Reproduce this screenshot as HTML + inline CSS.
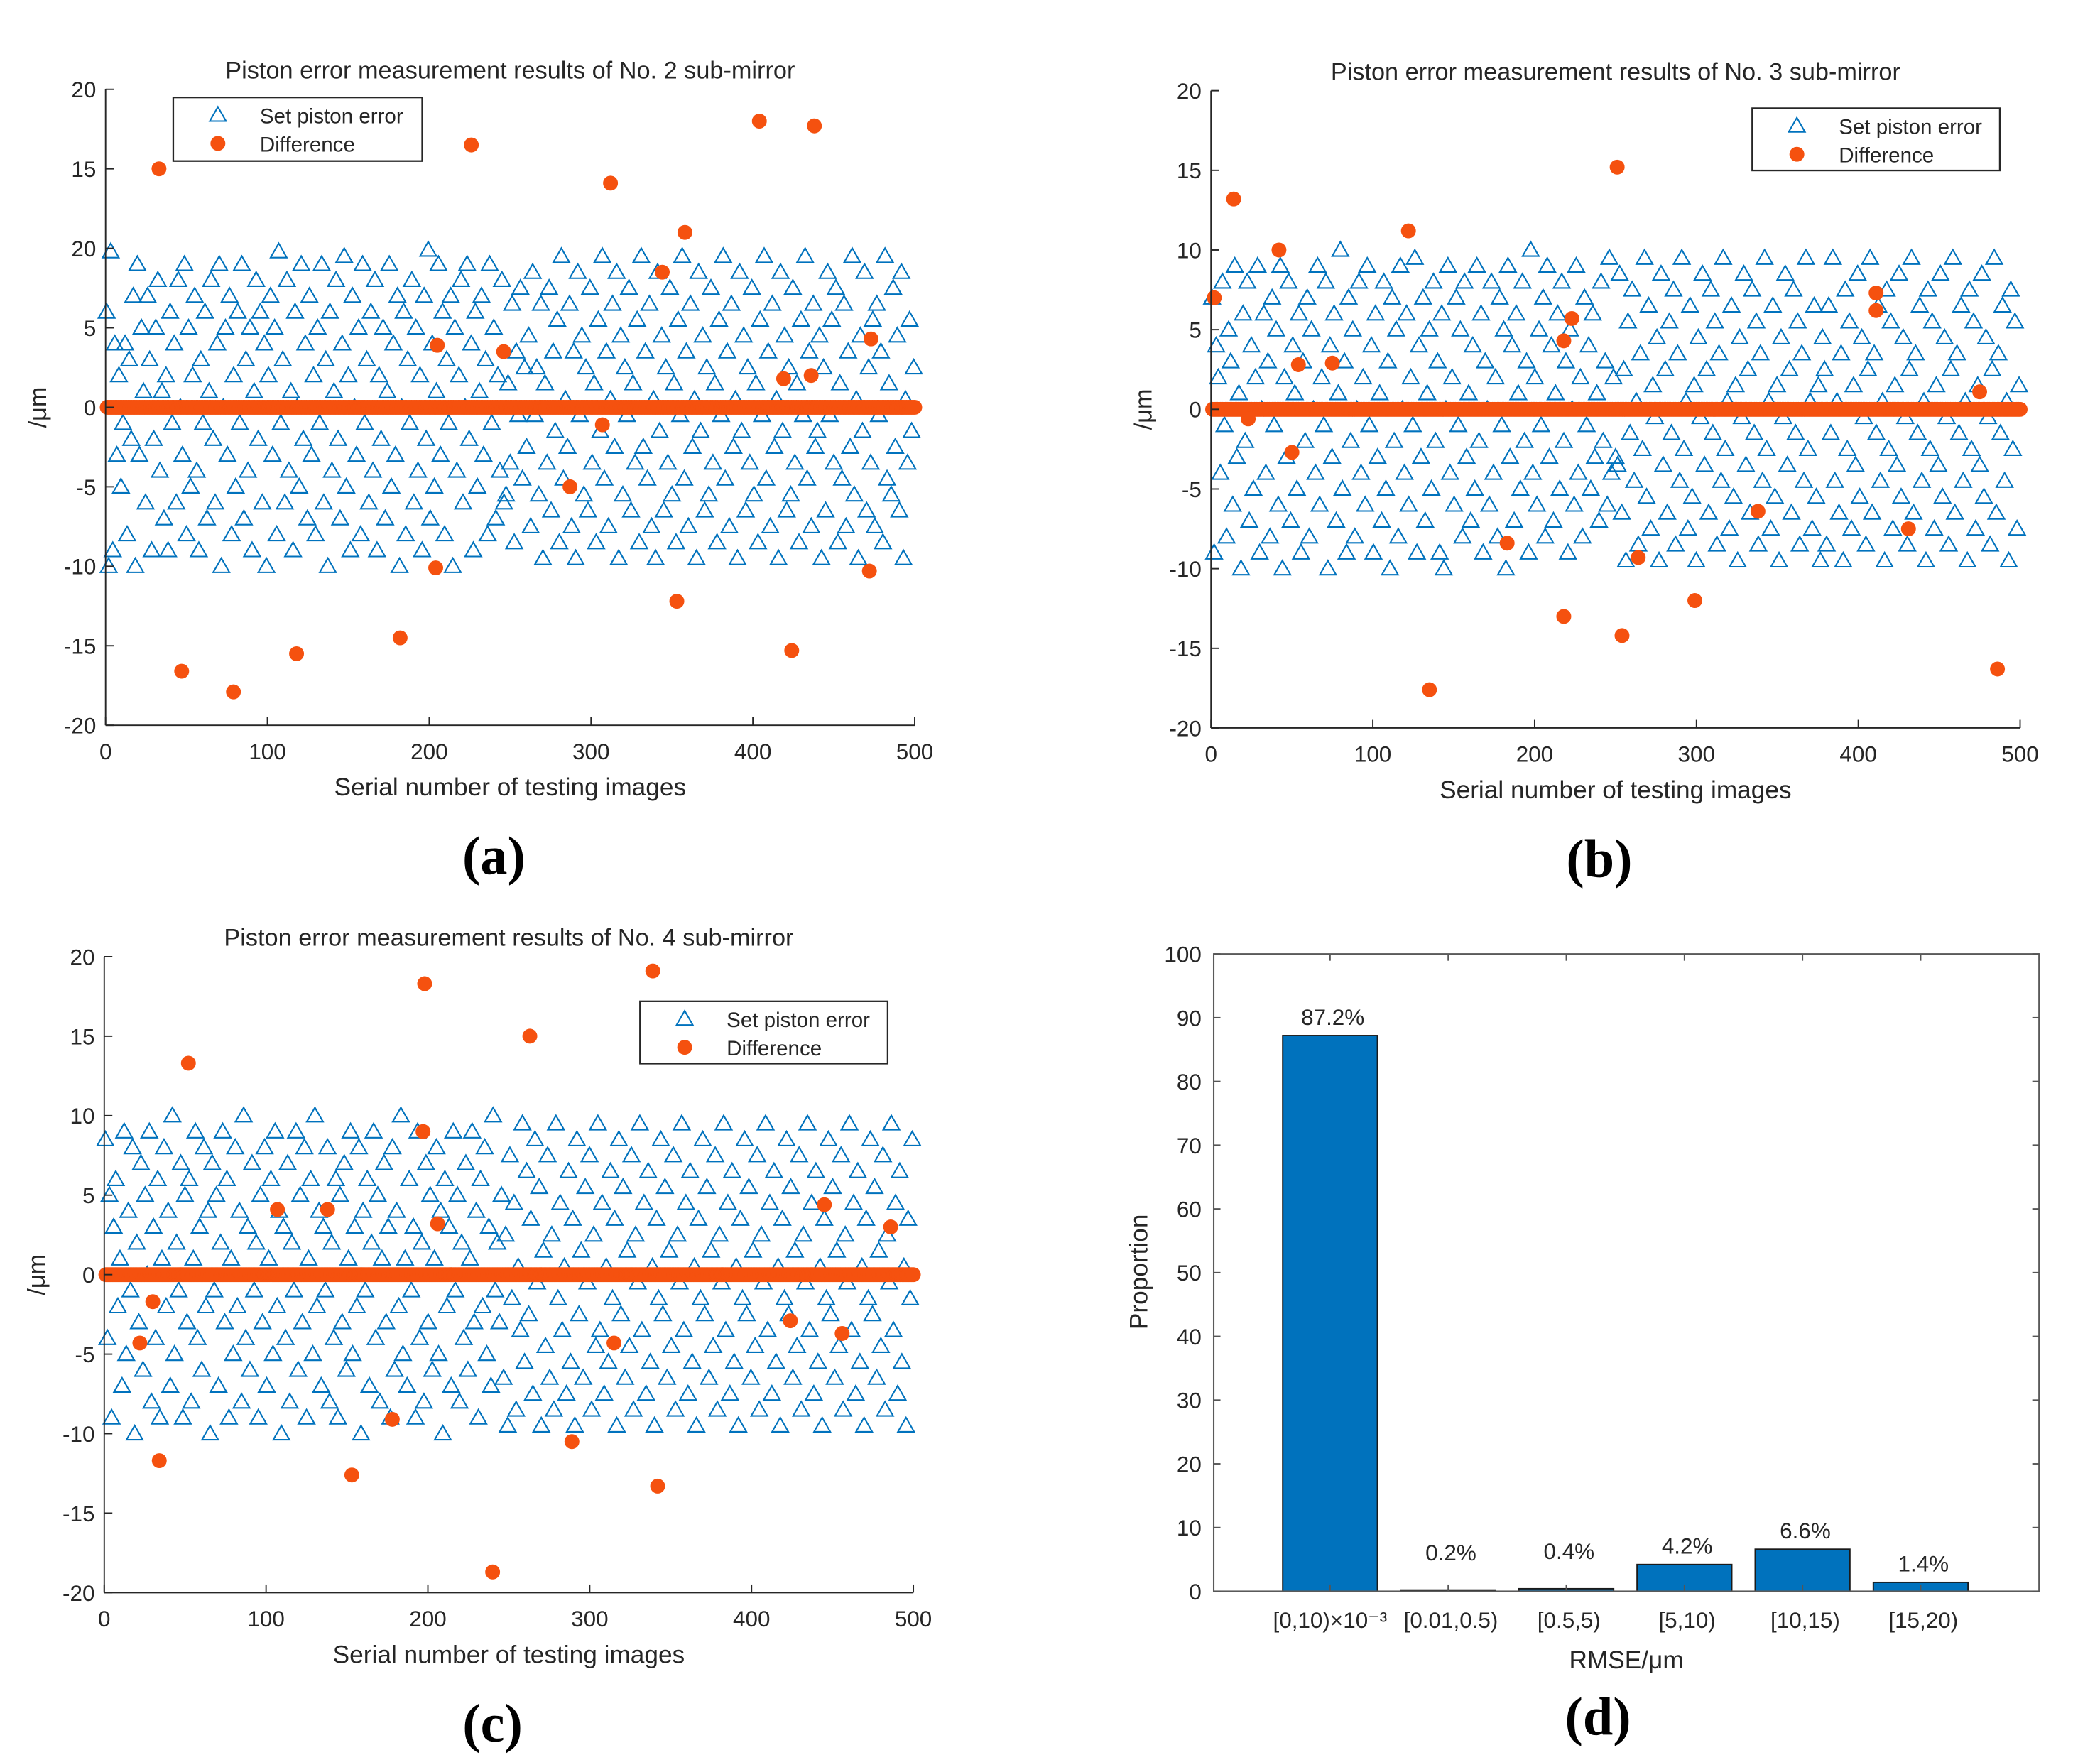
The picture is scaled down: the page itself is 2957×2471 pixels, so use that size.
<!DOCTYPE html>
<html><head><meta charset="utf-8"><title>Piston error measurement results</title>
<style>
html,body{margin:0;padding:0;background:#fff;}
svg{display:block;}
text{font-family:"Liberation Sans",Arial,sans-serif;fill:#262626;}
.pl{font-family:"Liberation Serif","Times New Roman",serif;font-weight:bold;fill:#000;}
</style></head>
<body>
<svg id="fig" width="2957" height="2471" viewBox="0 0 1552 1297" xmlns="http://www.w3.org/2000/svg"></svg>
<script>
// ---------- DATA ----------
const setA = [6,-10,9.8,-9,4,-3,2,-5,-1,4,-8,3,-2,7,-10,9,-3,5,1,-6,7,3,-9,-2,5,8,-4,1,-7,2,-9,6,-1,4,-6,8,0,-3,9,-8,5,-5,2,7,-4,-9,3,-1,6,-7,1,8,-2,-6,4,9,-10,0,5,-3,7,-8,2,-5,6,-1,9,-7,3,-4,5,-9,1,8,-2,6,-6,4,-10,2,7,-3,5,-8,9.8,-1,3,-6,8,-4,1,-9,6,0,-5,9,-2,4,-7,7,-3,2,-8,5,-1,9,-6,3,-10,6,-4,1,8,-2,-7,4,9.5,-5,2,-9,7,0,-3,5,-8,9,-1,3,-6,6,-4,8,-9,2,-2,5,-7,1,9,-5,4,-3,7,-10,0,6,-8,3,-1,8,-6,5,-4,2,-9,7,-2,9.9,-7,4,-5,1,9,-3,6,-8,3,-1,7,-10,5,-4,2,8,-6,0,9,-2,4,-9,6,-5,1,7,-3,3,-8,9,-1,5,-7,2,-4,8,-6,-5.5,1.5,-3.5,6.5,-8.5,3.5,-0.5,7.5,-4.5,2.5,
-2.5,4.5,-7.5,8.5,-0.5,2.5,-5.5,6.5,-9.5,1.5,-3.5,7.5,-6.5,3.5,-1.5,5.5,-8.5,9.5,-4.5,0.5,-2.5,6.5,-7.5,3.5,-9.5,8.5,-0.5,4.5,-5.5,2.5,-6.5,7.5,-3.5,1.5,-8.5,5.5,-1.5,9.5,-4.5,3.5,-7.5,0.5,6.5,-2.5,8.5,-9.5,4.5,-5.5,2.5,-0.5,7.5,-6.5,1.5,-3.5,5.5,-8.5,9.5,-2.5,3.5,-4.5,6.5,-7.5,0.5,-9.5,8.5,-1.5,4.5,-6.5,2.5,-3.5,7.5,-5.5,1.5,-8.5,5.5,-0.5,9.5,-4.5,3.5,-7.5,6.5,-2.5,0.5,-9.5,8.5,-1.5,4.5,-6.5,2.5,-5.5,7.5,-3.5,1.5,-8.5,5.5,-0.5,9.5,-4.5,3.5,-7.5,6.5,-2.5,0.5,-9.5,8.5,-1.5,4.5,-6.5,2.5,-3.5,7.5,-5.5,1.5,-8.5,5.5,-0.5,9.5,-4.5,3.5,-7.5,6.5,-2.5,0.5,-9.5,8.5,-1.5,4.5,-6.5,2.5,-5.5,7.5,-3.5,1.5,-8.5,5.5,-0.5,9.5,-4.5,3.5,-7.5,6.5,-2.5,-1.5,4.5,-9.5,2.5,-6.5,8.5,-0.5,5.5,-3.5,7.5,-8.5,1.5,-4.5,6.5,-7.5,3.5,-2.5,9.5,-5.5,0.5,-9.5,4.5,-1.5,8.5,-6.5,2.5,-3.5,5.5,-7.5,6.5,-0.5,3.5,-8.5,9.5,-4.5,1.5,-5.5,7.5,-2.5,4.5,-6.5,8.5,-9.5,0.5,-3.5,5.5,-1.5,2.5];
const setB = [7,-9,4,2,-4,8,-1,-8,5,3,-6,9,-3,1,-10,6,-2,8,-7,4,-5,2,9,-9,0,6,-4,3,-8,7,-1,5,-6,9,-10,2,-3,8,-7,4,1,-5,6,-9,3,-2,7,-8,5,0,-4,9,-6,2,-1,8,-10,4,-3,6,-7,1,10,-5,3,-9,7,-2,5,-8,0,8,-4,2,-6,9,-1,4,-9,6,-3,1,-7,8,-5,3,-10,7,-2,5,-8,9,0,-4,6,-6,2,-1,9.5,-9,4,-3,7,-7,1,5,-5,8,-2,3,-9,6,-10,0,9,-4,2,-6,7,-1,5,-8,8,-3,1,-7,4,-5,9,-2,6,-9,3,0,-6,8,-4,2,-8,7,-1,5,-10,9,-3,4,-7,6,1,-5,8,-2,3,-9,10,-4,2,-6,5,-1,7,-8,9,-3,4,-7,1,6,-5,8,-2,3,-9,5,0,-6,9,-4,2,-8,7,-1,4,-5,6,-3,1,-7,8,-2,3,-6,9.5,-4,2,-3,
-3.5,8.5,-6.5,2.5,-9.5,5.5,-1.5,7.5,-4.5,0.5,-8.5,3.5,-2.5,9.5,-5.5,6.5,-7.5,1.5,-0.5,4.5,-9.5,8.5,-3.5,2.5,-6.5,5.5,-1.5,7.5,-8.5,3.5,-4.5,9.5,-2.5,0.5,-7.5,6.5,-5.5,1.5,-9.5,4.5,-0.5,8.5,-3.5,2.5,-6.5,7.5,-1.5,5.5,-8.5,3.5,-4.5,9.5,-2.5,0.5,-7.5,6.5,-5.5,1.5,-9.5,4.5,-0.5,8.5,-3.5,2.5,-6.5,7.5,-1.5,5.5,-8.5,3.5,-4.5,9.5,-2.5,0.5,-7.5,6.5,-5.5,1.5,-9.5,4.5,-0.5,8.5,-3.5,2.5,-6.5,7.5,-1.5,5.5,-8.5,3.5,-4.5,9.5,-2.5,0.5,-7.5,6.5,-5.5,1.5,-9.5,4.5,2.5,-8.5,6.5,-1.5,9.5,-4.5,0.5,-6.5,3.5,-9.5,7.5,-2.5,5.5,-7.5,1.5,-3.5,8.5,-5.5,4.5,-0.5,-8.5,2.5,9.5,-6.5,3.5,-1.5,6.5,-4.5,0.5,-9.5,7.5,-2.5,5.5,-7.5,1.5,-3.5,8.5,-5.5,4.5,-0.5,-8.5,2.5,9.5,-6.5,3.5,-1.5,6.5,-4.5,0.5,-9.5,7.5,-2.5,5.5,-7.5,1.5,-3.5,8.5,-5.5,4.5,-0.5,-8.5,2.5,9.5,-6.5,3.5,-1.5,6.5,-4.5,0.5,-9.5,7.5,-2.5,5.5,-7.5,1.5,-3.5,8.5,-5.5,4.5,-0.5,-8.5,2.5,9.5,-6.5,3.5,-1.5,6.5,-4.5,0.5,-9.5,7.5,-2.5,5.5,-7.5,1.5];
const setC = [8.5,-4,5,-9,3,6,-2,1,-7,9,-5,4,-1,8,-10,2,-3,7,-6,5,0,9,-8,3,-4,6,-9,1,8,-2,4,-7,10,-5,2,-1,7,-9,5,-3,6,-8,1,9,-4,3,-6,8,-2,4,-10,7,-1,5,-7,2,9,-3,6,-9,1,-5,8,-2,4,-8,10,-4,3,-6,7,-1,2,-9,5,-3,8,-7,1,6,-5,9,-2,4,-10,3,-4,7,-8,2,-1,9,-6,5,-3,8,-9,1,6,-5,10,-2,4,-7,3,-1,8,-8,2,-4,6,-9,5,-3,7,-6,1,9,-5,3,-2,8,-10,4,-1,6,-7,2,9,-4,5,-8,1,7,-3,3,-9,8,-6,4,-2,10,-5,1,-7,6,-1,3,-9,9,-4,2,-8,7,-3,5,-6,1,8,-5,4,-10,6,-2,3,-7,9,-1,5,-8,2,-4,7,-6,1,9,-3,4,-9,6,-2,8,-5,3,-7,10,-1,2,-3,5,
-6.5,2.5,-9.5,7.5,-1.5,4.5,-8.5,0.5,-3.5,9.5,-5.5,6.5,-2.5,3.5,-7.5,8.5,-0.5,5.5,-9.5,1.5,-4.5,7.5,-6.5,2.5,-8.5,9.5,-1.5,4.5,-3.5,0.5,-7.5,6.5,-5.5,3.5,-9.5,8.5,-2.5,1.5,-6.5,5.5,-0.5,7.5,-8.5,2.5,-4.5,9.5,-3.5,4.5,-7.5,0.5,-5.5,6.5,-1.5,3.5,-9.5,8.5,-2.5,5.5,-6.5,1.5,-4.5,7.5,-8.5,2.5,-0.5,9.5,-3.5,4.5,-7.5,6.5,-5.5,0.5,-9.5,3.5,-1.5,8.5,-2.5,5.5,-6.5,1.5,-4.5,7.5,-8.5,2.5,-0.5,9.5,-3.5,4.5,-7.5,6.5,-5.5,0.5,-9.5,3.5,-1.5,8.5,-2.5,5.5,-6.5,1.5,-4.5,7.5,-8.5,2.5,-0.5,9.5,-3.5,4.5,-7.5,6.5,-5.5,0.5,-9.5,3.5,-1.5,8.5,-2.5,5.5,-6.5,1.5,-4.5,7.5,-8.5,2.5,-0.5,9.5,-3.5,4.5,-7.5,6.5,-5.5,0.5,-9.5,3.5,-1.5,8.5,-2.5,5.5,-6.5,1.5,-4.5,7.5,-8.5,2.5,-0.5,9.5,-3.5,4.5,-7.5,6.5,-5.5,0.5,-9.5,3.5,-1.5,8.5,-2.5,5.5,-6.5,1.5,-4.5,7.5,-8.5,2.5,-0.5,9.5,-3.5,4.5,-7.5,6.5,-5.5,0.5,-9.5,3.5,-1.5,8.5,-2.5,5.5,-6.5,1.5,-4.5,7.5,-8.5,2.5,-0.5,9.5,-3.5,4.5,-7.5,6.5,-5.5,0.5,-9.5,3.5,-1.5,8.5];
const outAx = [33,47,79,118,182,204,205,226,246,287,307,312,344,353,358,404,419,424,436,438,472,473];
const outAy = [15,-16.6,-17.9,-15.5,-14.5,-10.1,3.9,16.5,3.5,-5,-1.1,14.1,8.5,-12.2,11,18,1.8,-15.3,2,17.7,-10.3,4.3];
const outBx = [2,14,23,42,50,54,75,122,135,183,218,218,223,251,254,264,299,338,411,411,431,475,486];
const outBy = [7,13.2,-0.6,10,-2.7,2.8,2.9,11.2,-17.6,-8.4,-13,4.3,5.7,15.2,-14.2,-9.3,-12,-6.4,7.3,6.2,-7.5,1.1,-16.3];
const outCx = [22,30,34,52,107,138,153,178,197,198,206,240,263,289,315,339,342,424,445,456,486];
const outCy = [-4.3,-1.7,-11.7,13.3,4.1,4.1,-12.6,-9.1,9,18.3,3.2,-18.7,15,-10.5,-4.3,19.1,-13.3,-2.9,4.4,-3.7,3];
const yTicksA = ["20","15","20","5","0","-5","-10","-15","-20"];
const yTicksStd = ["20","15","10","5","0","-5","-10","-15","-20"];
const xTickVals = [0,100,200,300,400,500];
const barCats = ["[0,10)×10⁻³","[0.01,0.5)","[0.5,5)","[5,10)","[10,15)","[15,20)"];
const barVals = [87.2,0.2,0.4,4.2,6.6,1.4];
const barLabels = ["87.2%","0.2%","0.4%","4.2%","6.6%","1.4%"];
const barTicks = [0,10,20,30,40,50,60,70,80,90,100];

// ---------- helpers ----------
const NS="http://www.w3.org/2000/svg";
const svg=document.getElementById('fig');
function mk(tag,attrs,parent){const e=document.createElementNS(NS,tag);for(const k in attrs)e.setAttribute(k,attrs[k]);(parent||svg).appendChild(e);return e;}
function txt(s,x,y,size,anchor,parent,cls){const t=mk('text',{x:x,y:y,'font-size':size,'text-anchor':anchor||'middle'},parent);if(cls)t.setAttribute('class',cls);t.textContent=s;return t;}
const BLUE="#0072BD", ORANGE="#F5510F";

function scatterPanel(name,L,R,T,B,title,yt,setVals,ox,oy,leg,plabel){
  const g=mk('g',{});
  
  
  const xs=v=>L+(v/500)*(R-L);
  const ys=v=>T+(20-v)/40*(B-T);
  const n=setVals.length;
  setVals.forEach((v,i)=>{
    const cx=xs((i+0.5)*500/n), cy=ys(v);
    const p=mk('polygon',{points:`${cx},${cy-6} ${cx-6},${cy+4.5} ${cx+6},${cy+4.5}`,fill:'none',stroke:BLUE,'stroke-width':1.1},g);
    
    
  });
  for(let i=1;i<=500;i++){
    const c=mk('circle',{cx:xs(i),cy:ys(0),r:5.5,fill:ORANGE},g);
    
    
  }
  ox.forEach((x,i)=>{
    const c=mk('circle',{cx:xs(x),cy:ys(oy[i]),r:5.5,fill:ORANGE},g);
    
    
  });
  mk('line',{x1:L,y1:T,x2:L,y2:B,stroke:'#262626','stroke-width':1},g);
  mk('line',{x1:L,y1:B,x2:R,y2:B,stroke:'#262626','stroke-width':1},g);
  yt.forEach((s,i)=>{
    const y=T+i*(B-T)/8;
    mk('line',{x1:L,y1:y,x2:L+6,y2:y,stroke:'#262626'},g);
    const t=txt(s,L-7,y+6,16.5,'end',g);
    
    
  });
  xTickVals.forEach(v=>{
    const x=xs(v);
    mk('line',{x1:x,y1:B,x2:x,y2:B-6,stroke:'#262626'},g);
    const t=txt(String(v),x,B+25,16.5,'middle',g);
    
    
  });
  const tt=txt(title,(L+R)/2,T-8,18,'middle',g);
  
  
  const xl=txt('Serial number of testing images',(L+R)/2,B+52,18.5,'middle',g);
  
  
  const yl=txt('/μm',0,0,18,'middle',g);
  yl.setAttribute('transform',`translate(${L-44},${(T+B)/2}) rotate(-90)`);
  
  
  const lg=mk('g',{},g);
  
  
  mk('rect',{x:leg[0],y:leg[1],width:leg[2]-leg[0],height:leg[3]-leg[1],fill:'#fff',stroke:'#262626','stroke-width':1.2},lg);
  const lx=leg[0]+33, r1=leg[1]+13, r2=leg[1]+34;
  mk('polygon',{points:`${lx},${r1-6} ${lx-6},${r1+4.5} ${lx+6},${r1+4.5}`,fill:'none',stroke:BLUE,'stroke-width':1.1},lg);
  mk('circle',{cx:lx,cy:r2,r:5.5,fill:ORANGE},lg);
  const e1=txt('Set piston error',leg[0]+64,r1+6,15.5,'start',lg);
  
  
  const e2=txt('Difference',leg[0]+64,r2+6,15.5,'start',lg);
  
  
  const pl=txt(plabel,(L+R)/2-12,B+110,40,'middle',g,'pl');
  
  
}

scatterPanel('panel-a',78,676,66,536,'Piston error measurement results  of No. 2 sub-mirror',yTicksA,setA,outAx,outAy,[128,72,312,119],'(a)');
scatterPanel('panel-b',895,1493,67,538,'Piston error measurement results  of No. 3 sub-mirror',yTicksStd,setB,outBx,outBy,[1295,80,1478,126],'(b)');
scatterPanel('panel-c',77,675,707,1177,'Piston error measurement results  of No. 4 sub-mirror',yTicksStd,setC,outCx,outCy,[473,740,656,786],'(c)');

// ---------- bar chart (d) ----------
(function(){
  const L=897,R=1507,T=705,B=1176;
  const g=mk('g',{});
  
  
  const ys=v=>B-(v/100)*(B-T);
  const step=87.3, c0=983, bw=70;
  const xc=i=>c0+i*step;
  barVals.forEach((v,i)=>{
    const r=mk('rect',{x:xc(i)-bw/2,y:ys(v),width:bw,height:B-ys(v),fill:'#0072BD',stroke:'#1a1a1a','stroke-width':1},g);
    
    
    const t=txt(barLabels[i],xc(i)+2,ys(v)-8-(v<1?14:0),16.5,'middle',g);
    
    
    const c=txt(barCats[i],xc(i)+(i==0?0:2),B+27,16.5,'middle',g);
    
    
    mk('line',{x1:xc(i),y1:B,x2:xc(i),y2:B-5,stroke:'#555'},g);
    mk('line',{x1:xc(i),y1:T,x2:xc(i),y2:T+5,stroke:'#555'},g);
  });
  mk('rect',{x:L,y:T,width:R-L,height:B-T,fill:'none',stroke:'#5a5a5a','stroke-width':1.1},g);
  barTicks.forEach(v=>{
    const y=ys(v);
    mk('line',{x1:L,y1:y,x2:L+5,y2:y,stroke:'#555'},g);
    mk('line',{x1:R,y1:y,x2:R-5,y2:y,stroke:'#555'},g);
    const t=txt(String(v),L-9,y+6,16.5,'end',g);
    
    
  });
  const xl=txt('RMSE/μm',1202,1233,18.5,'middle',g);
  
  
  const yl=txt('Proportion',0,0,18.5,'middle',g);
  yl.setAttribute('transform','translate(848,940) rotate(-90)');
  
  
  const pl=txt('(d)',1181,1282,40,'middle',g,'pl');
  
  
})();
</script>
</body></html>
